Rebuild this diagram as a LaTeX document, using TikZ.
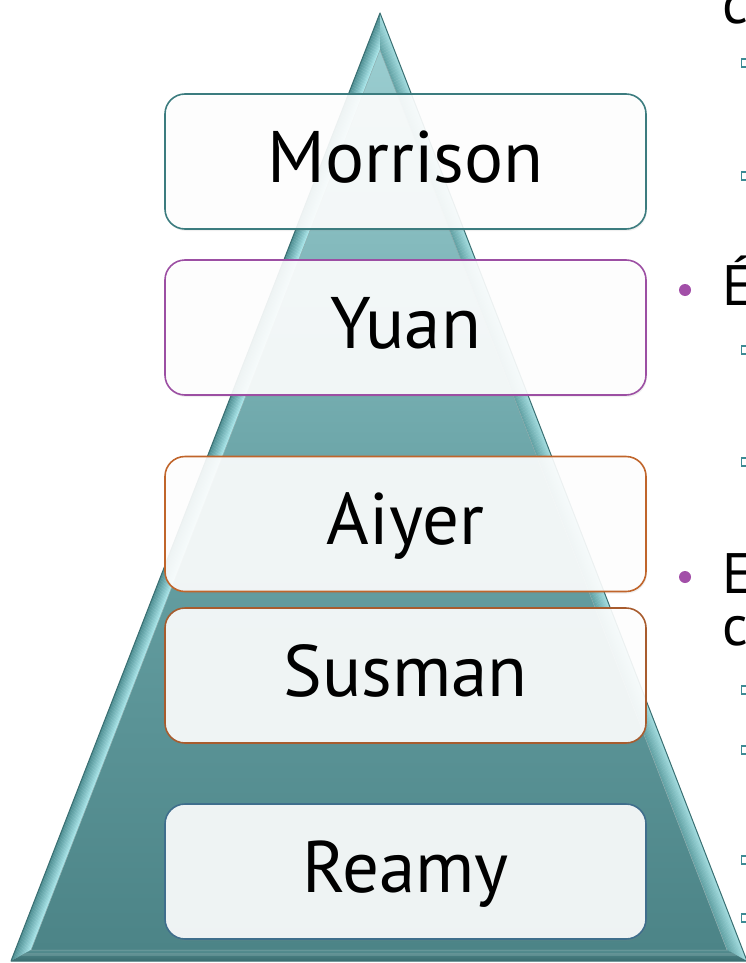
\documentclass[tikz,border=0pt]{standalone}
\usepackage{fontspec}
\setmainfont{PT Sans}
\usetikzlibrary{shadows,calc}

\definecolor{edgeteal}{HTML}{3A6F72}
\definecolor{faceTop}{HTML}{9ACDD0}
\definecolor{faceMid}{HTML}{68A2A5}
\definecolor{faceBot}{HTML}{4C8487}
\definecolor{bevelLeftOut}{HTML}{4E8E92}
\definecolor{bevelLeftIn}{HTML}{A9E5E9}
\definecolor{bevelRightOut}{HTML}{A3DCDF}
\definecolor{bevelRightIn}{HTML}{62A2A5}
\definecolor{bevelBottomOut}{HTML}{3D6F72}
\definecolor{bevelBottomIn}{HTML}{548E91}
\definecolor{tierTeal}{HTML}{3C7C7F}
\definecolor{tierPurple}{HTML}{9C4FA3}
\definecolor{tierOrange}{HTML}{C0652B}
\definecolor{tierBrown}{HTML}{A85C2E}
\definecolor{tierBlue}{HTML}{3F6E8C}
\definecolor{bulletPurple}{HTML}{A24FA8}
\definecolor{bulletTeal}{HTML}{3D8A94}

\tikzset{
  tier/.style={draw=#1, line width=1.6pt, rounded corners=20pt,
    fill=white, fill opacity=0.9, text opacity=1,
    minimum width=481pt, minimum height=135pt, inner sep=0pt,
    text height=41pt, text depth=0pt,
    font=\fontsize{73}{73}\selectfont,
    drop shadow={opacity=0.12, shadow xshift=1pt, shadow yshift=-2pt}},
  sidetext/.style={anchor=base west, inner sep=0pt, font=\fontsize{57}{57}\selectfont},
  dotbullet/.style={circle, fill=bulletPurple, inner sep=0pt, minimum size=12pt},
  squarebullet/.style={draw=bulletTeal, line width=1.1pt, inner sep=0pt,
    minimum width=7pt, minimum height=8pt, anchor=west}
}

% one bevel facet between outer edge (#1)-(#2) and inner edge (#3)-(#4),
% shaded in strips from colour #5 (outside) to colour #6 (inside)
\newcommand{\bevelfacet}[6]{%
  \foreach \k in {0,...,11}{%
    \pgfmathsetmacro{\ta}{\k/12}%
    \pgfmathsetmacro{\tb}{min(1,(\k+1)/12+0.02)}%
    \pgfmathsetmacro{\pc}{100*(1-\k/11)}%
    \fill[#5!\pc!#6]
      ($(#1)!\ta!(#3)$) -- ($(#2)!\ta!(#4)$) --
      ($(#2)!\tb!(#4)$) -- ($(#1)!\tb!(#3)$) -- cycle;
  }%
}

\begin{document}
\begin{tikzpicture}[x=1pt,y=-1pt]
\useasboundingbox (0,0) rectangle (746,963);
\begin{scope}
\clip (0,0) rectangle (746,963);

% pyramid: outer and inner corners of the bevel
\coordinate (A) at (380,13);
\coordinate (B) at (11,961);
\coordinate (C) at (747,961);
\coordinate (Ai) at (380,50);
\coordinate (Bi) at (31,950);
\coordinate (Ci) at (727,950);

% front face
\shade[top color=faceTop, bottom color=faceBot, middle color=faceMid]
  (Ai) -- (Bi) -- (Ci) -- cycle;
% bevel facets
\bevelfacet{A}{B}{Ai}{Bi}{bevelLeftOut}{bevelLeftIn}
\bevelfacet{A}{C}{Ai}{Ci}{bevelRightOut}{bevelRightIn}
\bevelfacet{B}{C}{Bi}{Ci}{bevelBottomOut}{bevelBottomIn}
\draw[edgeteal!60, line width=0.5pt] (Ai) -- (Bi) -- (Ci) -- cycle;
\draw[edgeteal, line width=1pt, line join=round] (A) -- (B) -- (C) -- cycle;

% tiers
\node[tier=tierTeal]   (morrison) at (405.5,161.5) {Morrison};
\node[tier=tierPurple] (yuan)     at (405.5,327.5) {Yuan};
\node[tier=tierOrange] (aiyer)    at (405.5,524)   {Aiyer};
\node[tier=tierBrown]  (susman)   at (405.5,675.5) {Susman};
\node[tier=tierBlue]   (reamy)    at (405.5,871.5) {Reamy};

% text column at the right edge
\node[sidetext] (t1) at (722,24)  {c};
\node[dotbullet] (d1) at (685,290) {};
\node[sidetext] (t2) at (722,305) {É};
\node[dotbullet] (d2) at (685,577) {};
\node[sidetext] (t3) at (722,593) {E};
\node[sidetext] (t4) at (722,645) {c};

\node[squarebullet] (s1) at (741,63)  {};
\node[squarebullet] (s2) at (741,176) {};
\node[squarebullet] (s3) at (741,350) {};
\node[squarebullet] (s4) at (741,462) {};
\node[squarebullet] (s5) at (741,690) {};
\node[squarebullet] (s6) at (741,750) {};
\node[squarebullet] (s7) at (741,860) {};
\node[squarebullet] (s8) at (741,918) {};
\end{scope}
\end{tikzpicture}
\end{document}
